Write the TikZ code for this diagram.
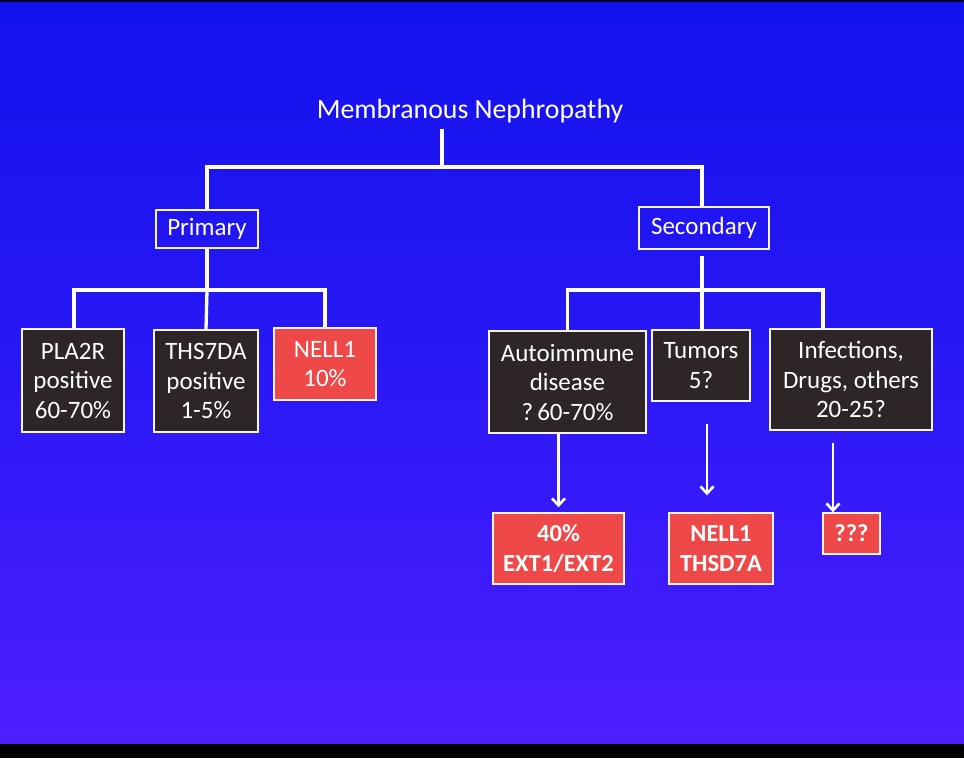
\documentclass[tikz,border=0pt]{standalone}
\usepackage{fontspec}
\setmainfont{Carlito}
\usetikzlibrary{arrows.meta}
\definecolor{bgtop}{HTML}{1212EC}
\definecolor{bgmid}{HTML}{2A18F6}
\definecolor{bgbot}{HTML}{4E1EFF}
\definecolor{darkbox}{HTML}{2D2526}
\definecolor{redbox}{HTML}{EF4848}
\tikzset{
  box/.style={draw=white!92!gray, line width=1.4pt, inner sep=0pt, align=center, text=white,
    font=\fontsize{25}{29.5}\selectfont},
  outlinebox/.style={box},
  darkfill/.style={box, fill=darkbox},
  redfill/.style={box, fill=redbox},
  redbold/.style={redfill, font=\fontsize{24.5}{29.5}\selectfont\bfseries},
  conn/.style={draw=white, line width=3.3pt},
  arr/.style={draw=white, line width=2.6pt, -{Straight Barb[length=7pt,width=13pt]}},
}
\begin{document}
\begin{tikzpicture}[x=1pt,y=-1pt]
  % background
  \useasboundingbox (0,0) rectangle (964,758);
  \shade[top color=bgtop, bottom color=bgbot, middle color=bgmid] (0,0) rectangle (964,744);
  \fill[black] (0,744) rectangle (964,758);
  \fill[black!85!blue] (0,0) rectangle (964,2);

  % title
  \node[text=white, inner sep=0pt, font=\fontsize{27.8}{32}\selectfont] (title) at (470,111) {Membranous Nephropathy};

  % level 1
  \node[outlinebox, minimum width=102pt, minimum height=38pt] (primary) at (207,229) {Primary};
  \node[outlinebox, minimum width=130pt, minimum height=42pt] (secondary) at (704,228) {Secondary};

  % level 2 primary
  \node[darkfill, minimum width=102pt, minimum height=103pt] (pla2r) at (73,380.5) {PLA2R\\positive\\60-70\%};
  \node[darkfill, minimum width=104pt, minimum height=102pt] (ths) at (206,381) {THS7DA\\positive\\1-5\%};
  \node[redfill, minimum width=102pt, minimum height=72pt] (nell) at (325,364) {NELL1\\10\%};

  % level 2 secondary
  \node[darkfill, minimum width=157pt, minimum height=102pt] (auto) at (567.5,382) {Autoimmune\\disease\\?\,60-70\%};
  \node[darkfill, minimum width=98pt, minimum height=71pt] (tumors) at (701,365.5) {Tumors\\5?};
  \node[darkfill, minimum width=162pt, minimum height=101pt] (inf) at (851,379.5) {Infections,\\Drugs, others\\20-25?};

  % level 3
  \node[redbold, minimum width=131pt, minimum height=71pt] (ext) at (558.5,548.5) {40\%\\EXT1/EXT2};
  \node[redbold, minimum width=104pt, minimum height=71pt] (nt) at (721,548.5) {NELL1\\THSD7A};
  \node[redbold, minimum width=57pt, minimum height=41pt] (qqq) at (851.5,533.5) {???};

  % junctions
  \coordinate (h0) at (442,167);
  \coordinate (h1) at (207,290);
  \coordinate (h2) at (702,290);
  \coordinate (c3) at (823,290);

  % connectors
  \draw[conn] ([yshift=-6pt]title.south -| h0) -- (h0);
  \draw[conn] (primary.north) |- (h0) -| (h2 |- secondary.north);
  \draw[conn] (primary.south) -- (h1);
  \draw[conn] (pla2r.north -| 74,0) |- (h1) -| (nell.north);
  \draw[conn] (h1) -- (ths.north);
  \draw[conn] ([yshift=-6pt]secondary.south -| h2) -- (h2);
  \draw[conn] (auto.north) |- (h2) -| (c3 |- inf.north);
  \draw[conn] (h2) -- (h2 |- tumors.north);

  % arrows
  \draw[arr, shorten >=5pt] (ext.north |- auto.south) -- (ext.north);
  \draw[arr, shorten <=22pt, shorten >=17pt] ([xshift=-14pt]nt.north |- tumors.south) -- ([xshift=-14pt]nt.north);
  \draw[arr, shorten <=12pt] ([xshift=-18.5pt]qqq.north |- inf.south) -- ([xshift=-18.5pt]qqq.north);
\end{tikzpicture}
\end{document}
